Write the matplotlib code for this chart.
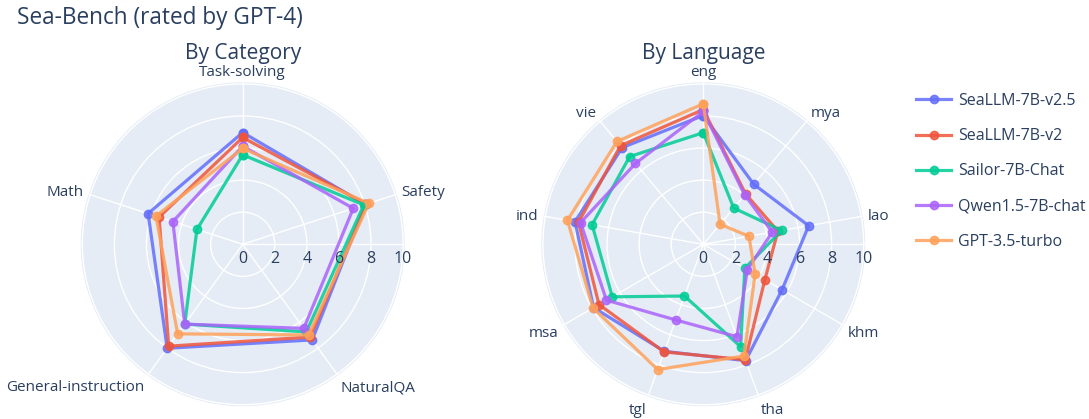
import numpy as np
import matplotlib
matplotlib.use("Agg")
import matplotlib.pyplot as plt
from matplotlib.lines import Line2D

plt.rcParams["font.family"] = ["Open Sans", "DejaVu Sans"]
TXT = "#2a3f5f"
BG = "#E5ECF6"

models = ["SeaLLM-7B-v2.5", "SeaLLM-7B-v2", "Sailor-7B-Chat", "Qwen1.5-7B-chat", "GPT-3.5-turbo"]
colors = ["#636efa", "#EF553B", "#00cc96", "#ab63fa", "#FFA15A"]

categories = ["Task-solving", "Safety", "NaturalQA", "General-instruction", "Math"]
cat_seallm_v25 = [6.97, 8.05, 7.37, 8.01, 6.20]
cat_seallm_v2 = [6.66, 8.10, 7.15, 7.85, 5.48]
cat_sailor = [5.58, 7.94, 6.75, 6.15, 3.00]
cat_qwen = [6.12, 7.25, 6.48, 6.15, 4.58]
cat_gpt35 = [5.98, 8.27, 6.99, 6.90, 5.69]

languages = ["eng", "mya", "lao", "khm", "tha", "tgl", "msa", "ind", "vie"]
lang_seallm_v25 = [8.03, 4.89, 6.67, 5.67, 7.72, 7.10, 7.90, 8.12, 7.87]
lang_seallm_v2 = [8.40, 4.10, 4.72, 4.43, 7.66, 7.14, 7.51, 7.90, 8.03]
lang_sailor = [6.96, 2.95, 4.96, 2.99, 6.79, 3.43, 6.55, 7.04, 7.14]
lang_qwen = [8.28, 4.02, 4.37, 3.17, 6.13, 5.02, 6.97, 7.77, 6.58]
lang_gpt35 = [8.76, 1.63, 2.89, 3.73, 7.41, 8.31, 7.94, 8.60, 8.37]

cat_data = [cat_seallm_v25, cat_seallm_v2, cat_sailor, cat_qwen, cat_gpt35]
lang_data = [lang_seallm_v25, lang_seallm_v2, lang_sailor, lang_qwen, lang_gpt35]

W, H = 1089, 419
RMAX = 10.1
fig = plt.figure(figsize=(W / 100, H / 100), dpi=100)


def radar(cx, cy, labels, series, title):
    R = 162
    ax = fig.add_axes([(cx - R) / W, (H - cy - R) / H, 2 * R / W, 2 * R / H], projection="polar")
    ax.set_facecolor(BG)
    ax.spines["polar"].set_visible(False)
    ax.set_theta_zero_location("N")
    ax.set_theta_direction(-1)
    ax.set_ylim(0, RMAX)
    n = len(labels)
    theta = np.arange(n) * 2 * np.pi / n
    ax.set_xticks(theta)
    ax.set_xticklabels([])
    ax.set_yticks([2, 4, 6, 8, 10])
    ax.set_yticklabels([])
    ax.grid(color="white", linewidth=1)
    ax.tick_params(length=0)
    # radial axis line pointing east
    ax.plot([np.pi / 2, np.pi / 2], [0, RMAX], color="white", lw=1, zorder=1)

    for vals, c, name in zip(series, colors, models):
        t = np.append(theta, theta[0])
        v = np.append(vals, vals[0])
        ax.plot(t, v, color=c, lw=2.3, marker="o", markersize=6, alpha=0.85,
                label=name, clip_on=False, zorder=3)

    for r in [0, 2, 4, 6, 8, 10]:
        ax.annotate(str(r), xy=(np.pi / 2, r), xytext=(0, -15), textcoords="offset pixels",
                    ha="center", va="center", fontsize=11.5, color=TXT)

    for th, lab in zip(theta, labels):
        a = np.pi / 2 - th  # standard angle
        cs, sn = np.cos(a), np.sin(a)
        ha = "center" if abs(cs) < 0.1 else ("left" if cs > 0 else "right")
        ax.annotate(lab, xy=(th, RMAX), xytext=(5 * cs, 12.4 * sn - 2.4),
                    textcoords="offset pixels", ha=ha, va="center",
                    fontsize=11, color=TXT, annotation_clip=False)

    fig.text(cx / W, 1 - 54 / H, title, ha="center", va="center", fontsize=15, color=TXT)
    return ax


ax1 = radar(242.7, 244.3, categories, cat_data, "By Category")
ax2 = radar(703.3, 244.3, languages, lang_data, "By Language")

fig.text(17 / W, 1 - 18 / H, "Sea-Bench (rated by GPT-4)", ha="left", va="center",
         fontsize=16.3, color=TXT)

handles = [Line2D([0], [0], color=c, lw=2.3, marker="o", markersize=6, alpha=0.85) for c in colors]
leg = fig.legend(handles, models, loc="upper left", bbox_to_anchor=(916 / W, 1 - 93 / H),
                 frameon=False, fontsize=11.5, handlelength=2.2, handletextpad=0.45,
                 labelspacing=1.2, borderpad=0, borderaxespad=0, labelcolor=TXT)

fig.savefig("out.png", dpi=100)
